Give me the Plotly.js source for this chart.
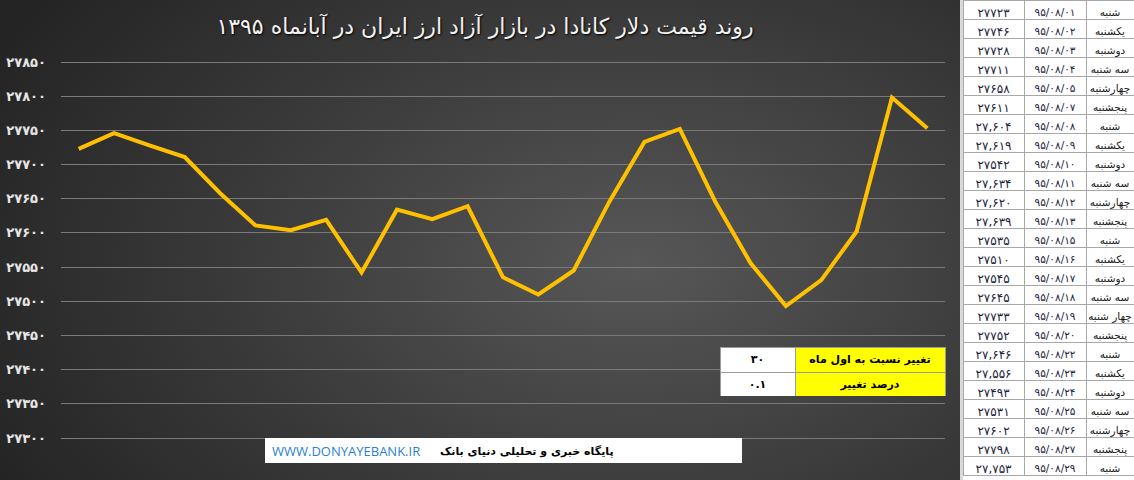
<!DOCTYPE html>
<html>
<head>
<meta charset="utf-8">
<script src="https://cdn.plot.ly/plotly-3.0.1.min.js"></script>
<style>
body { margin: 0; background: #fff; }
#bg { position: absolute; left: 0; top: 0; width: 960px; height: 480px;
  background: radial-gradient(ellipse 75% 95% at 66% 55%, #575757 0%, #3a3a3a 55%, #242424 100%); }
#chart { position: absolute; left: 0; top: 0; width: 1134px; height: 480px; }
</style>
</head>
<body>
<div id="bg"></div>
<div id="chart"></div>
<script>
// day of month (Aban 1395)
const days = ["01","02","03","04","05","07","08","09","10","11","12","13","15","16","17","18","19","20","22","23","24","25","26","27","29"];
const weekdays = ["شنبه","یکشنبه","دوشنبه","سه شنبه","چهارشنبه","پنجشنبه",
  "شنبه","یکشنبه","دوشنبه","سه شنبه","چهارشنبه","پنجشنبه",
  "شنبه","یکشنبه","دوشنبه","سه شنبه","چهار شنبه","پنجشنبه",
  "شنبه","یکشنبه","دوشنبه","سه شنبه","چهارشنبه","پنجشنبه","شنبه"];
const prices = [27723,27746,27728,27711,27658,27611,27604,27619,27542,27634,27620,27639,
  27535,27510,27545,27645,27733,27752,27646,27556,27493,27531,27602,27798,27753];
// rows the sheet shows with a thousands separator
const commaRows = [6,7,9,10,11,18,19,24];
const yTicks = [27300,27350,27400,27450,27500,27550,27600,27650,27700,27750,27800,27850];

const fa = s => String(s).replace(/\d/g, d => "۰۱۲۳۴۵۶۷۸۹"[d]);
const W = 1134, H = 480;
const pxPer = 34.18 / 50;   // pixels per rial on the y axis

const dateLabels = days.map(d => fa("95/08/" + d));
const priceLabels = prices.map((p, i) => {
  const s = String(p);
  return fa(commaRows.includes(i) ? s.slice(0, 2) + "," + s.slice(2) : s);
});
// keep two-word day names on one line
const dayLabels = weekdays.map(w => w.replace(/ /g, "\u00a0"));

const change = prices[prices.length - 1] - prices[0];
const pct = (change / prices[0] * 100).toFixed(1);

const lineTrace = {
  x: dateLabels,
  y: prices,
  type: "scatter",
  mode: "lines",
  line: {color: "#FFC000", width: 4},
  hoverinfo: "skip"
};

const tableFont = {family: "DejaVu Sans", size: [12, 10.5, 10.5], color: ["#1c2340", "#1c2340", "#1a1a1a"]};
const sideTable = {
  type: "table",
  domain: {x: [963 / W, 1], y: [0, 1]},
  columnwidth: [61, 62, 48],
  header: {
    values: [priceLabels[0], dateLabels[0], dayLabels[0]],
    height: 19, align: "center", fill: {color: "#fff"},
    line: {color: "#a8a8a8", width: 1}, font: tableFont
  },
  cells: {
    values: [priceLabels.slice(1), dateLabels.slice(1), dayLabels.slice(1)],
    height: 19, align: "center", fill: {color: "#fff"},
    line: {color: "#a8a8a8", width: 1}, font: tableFont
  }
};

const boxFont = {family: "DejaVu Sans", size: 11, color: "#000", weight: "bold"};
const changeTable = {
  type: "table",
  domain: {x: [720 / W, 945 / W], y: [1 - 397 / H, 1 - 347 / H]},
  columnwidth: [75, 150],
  header: {
    values: [fa(change), "تغییر نسبت به اول ماه"],
    height: 25, align: "center",
    fill: {color: ["#ffffff", "#ffff00"]},
    line: {color: "#9a9a9a", width: 1}, font: boxFont
  },
  cells: {
    values: [[fa(pct)], ["درصد تغییر"]],
    height: 25, align: "center",
    fill: {color: ["#ffffff", "#ffff00"]},
    line: {color: "#9a9a9a", width: 1}, font: boxFont
  }
};

// pad the range by 2 so the end gridlines are drawn
const pad = 2;
const layout = {
  width: W, height: H,
  margin: {t: 0, l: 0, b: 0, r: 0},
  paper_bgcolor: "rgba(0,0,0,0)",
  plot_bgcolor: "rgba(0,0,0,0)",
  showlegend: false,
  title: {
    text: "روند قیمت دلار کانادا در بازار آزاد ارز ایران در آبانماه ۱۳۹۵",
    x: 485 / W, xanchor: "center", xref: "paper",
    y: 1 - 26 / H, yanchor: "middle", yref: "container",
    font: {family: "DejaVu Sans", size: 22, color: "#f2f2f2", shadow: "1px 1px 2px #000"}
  },
  xaxis: {
    domain: [61 / W, 945 / W],
    type: "category",
    range: [-0.5, prices.length - 0.5],
    showticklabels: false, showgrid: false, zeroline: false, showline: false
  },
  yaxis: {
    domain: [1 - (438 + pad * pxPer) / H, 1 - (62 - pad * pxPer) / H],
    range: [27300 - pad, 27850 + pad],
    tickvals: yTicks,
    ticktext: yTicks.map(fa),
    tickfont: {family: "DejaVu Sans", size: 13, color: "#e6e6e6", weight: "bold"},
    ticklabelstandoff: 14,
    gridcolor: "#7a7a7a", gridwidth: 1,
    zeroline: false, showline: false, ticks: "", automargin: false
  },
  shapes: [
    {type: "rect", xref: "paper", yref: "paper", layer: "above",
     x0: 960 / W, x1: 963 / W, y0: 0, y1: 1, fillcolor: "#d9d9d9", line: {width: 0}},
    {type: "rect", xref: "paper", yref: "paper", layer: "above",
     x0: 265 / W, x1: 742 / W, y0: 1 - 463 / H, y1: 1 - 438 / H,
     fillcolor: "#ffffff", line: {width: 0}}
  ],
  annotations: [
    {text: "WWW.DONYAYEBANK.IR", xref: "paper", yref: "paper",
     x: 270 / W, xanchor: "left", y: 1 - 451 / H, yanchor: "middle", showarrow: false,
     font: {family: "Open Sans", size: 13, color: "#2b7fd0"}},
    {text: "پایگاه خبری و تحلیلی دنیای بانک", xref: "paper", yref: "paper",
     x: 616 / W, xanchor: "right", y: 1 - 451 / H, yanchor: "middle", showarrow: false,
     font: {family: "DejaVu Sans", size: 11, color: "#000", weight: "bold"}}
  ]
};

var config = {responsive: false, displayModeBar: false, staticPlot: true};

Plotly.newPlot("chart", [lineTrace, sideTable, changeTable], layout, config);
</script>
</body>
</html>
